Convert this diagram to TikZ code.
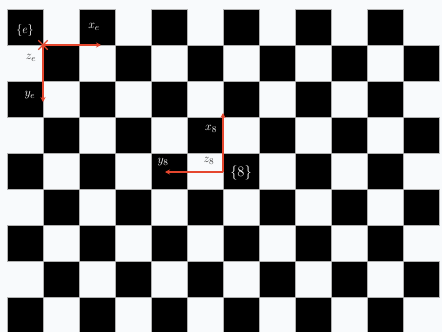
\documentclass[tikz,border=0pt]{standalone}
\usetikzlibrary{arrows.meta,shapes.misc}
\definecolor{axisred}{HTML}{E5472E}
\definecolor{bg}{HTML}{F8FAFC}
\definecolor{darktext}{HTML}{3A3A3A}
\begin{document}
\begin{tikzpicture}[x=1pt,y=-1pt,
  cellblack/.style={fill=black,draw=gray!60,line width=0.6pt},
  axis/.style={draw=axisred,line width=1.8pt,-{Stealth[length=5pt,width=5pt]}},
  onblack/.style={text=white,font=\fontsize{12.5}{14}\selectfont,inner sep=0pt},
  onwhite/.style={text=darktext,font=\fontsize{12.5}{14}\selectfont,inner sep=0pt}]
\useasboundingbox (0,0) rectangle (442,332);
\fill[bg] (0,0) rectangle (442,332);
\begin{scope}
\clip (0,0) rectangle (442,332);
\foreach \r in {0,...,8}{
  \foreach \c in {0,...,11}{
    \pgfmathtruncatemacro{\cellpar}{mod(\r+\c,2)}
    \ifnum\cellpar=0
      \path[cellblack] ({7+36*\c},{9+36*\r}) rectangle ++(36,36);
    \fi
  }
}
\end{scope}
% frame {e}
\node[cross out,draw=axisred,line width=1.3pt,minimum size=8pt,inner sep=0pt] (oe) at (43,45) {};
\coordinate (xe) at (101,45);
\coordinate (ye) at (43,102);
\draw[axis] (oe.center) -- (xe);
\draw[axis] (oe.center) -- (ye);
\node[onblack] (le) at (25,30) {$\{e\}$};
\node[onblack] (lxe) at (94,27) {$x_e$};
\node[onwhite] (lze) at (31,58) {$z_e$};
\node[onblack] (lye) at (30,95) {$y_e$};
% frame {8}
\coordinate (o8) at (223,172);
\coordinate (x8) at (223,113);
\coordinate (y8) at (165,172);
\draw[axis] (o8) -- (x8);
\draw[axis] (o8) -- (y8);
\node[onblack] (lx8) at (211,129) {$x_8$};
\node[onwhite] (lz8) at (209,161) {$z_8$};
\node[onblack] (ly8) at (163,162) {$y_8$};
\node[onblack,font=\fontsize{13.5}{15}\selectfont] (l8) at (241,173) {$\{8\}$};
\end{tikzpicture}
\end{document}
